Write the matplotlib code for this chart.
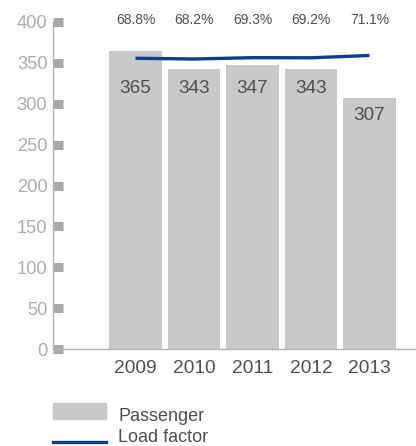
import matplotlib
matplotlib.use("Agg")
import matplotlib.pyplot as plt
from matplotlib.patches import Rectangle
from matplotlib.lines import Line2D

plt.rcParams['font.family'] = ['Liberation Sans', 'DejaVu Sans']

years = ['2009', '2010', '2011', '2012', '2013']
passengers = [365, 343, 347, 343, 307]
load_factor = [68.8, 68.2, 69.3, 69.2, 71.1]
y_ticks = [0, 50, 100, 150, 200, 250, 300, 350, 400]

bar_color = '#c8c9cb'
line_color = '#0b3f8c'
axis_color = '#b4b4b6'
tick_mark_color = '#a9a9ab'
text_color = '#4f4f4f'
tick_label_color = '#adadad'

W, H = 416, 446
fig = plt.figure(figsize=(W / 100, H / 100), dpi=100)
ax = fig.add_axes([53 / W, 97 / H, 1 - 53 / W, 327 / H])

x = list(range(len(years)))
ax.bar(x, passengers, width=0.9, color=bar_color, zorder=2)
ax.set_xlim(-1.41, 4.795)
ax.set_ylim(0, 400)

for s in ['top', 'right']:
    ax.spines[s].set_visible(False)
for s in ['left', 'bottom']:
    ax.spines[s].set_color(axis_color)
    ax.spines[s].set_linewidth(1.0)

ax.set_yticks(y_ticks)
ax.set_yticklabels([str(v) for v in y_ticks])
ax.tick_params(axis='y', direction='in', length=7, width=6.5,
               color=tick_mark_color, labelsize=13.2, labelcolor=tick_label_color, pad=4)
ax.set_xticks(x)
ax.set_xticklabels(years)
ax.tick_params(axis='x', length=0, labelsize=13.8, labelcolor=text_color, pad=8)

# passenger values inside the bars
for xi, v in zip(x, passengers):
    ypos = min(313, v - 27)
    ax.text(xi, ypos, str(v), ha='center', va='baseline', fontsize=13.6,
            color=text_color, zorder=4)

# load factor on its own hidden scale
ax2 = ax.twinx()
ax2.set_ylim(-170, 98.6)
ax2.axis('off')
ax2.set_xlim(ax.get_xlim())
ax2.plot(x, load_factor, color=line_color, linewidth=2.4, solid_capstyle='butt', zorder=5)

for xi, lf in zip(x, load_factor):
    ax.text(xi, 400 - 2 / 0.8175, f"{lf}%", ha='center', va='baseline',
            fontsize=10, color=text_color, clip_on=False)

# legend
fig.patches.append(Rectangle((53 / W, 1 - 419 / H), 53 / W, 16 / H,
                             transform=fig.transFigure, color=bar_color))
fig.text(118 / W, 1 - 421 / H, 'Passenger', ha='left', va='baseline',
         fontsize=13, color=text_color)
fig.lines.append(Line2D([53 / W, 106 / W], [1 - 442 / H, 1 - 442 / H],
                        transform=fig.transFigure, color=line_color, linewidth=2.4))
fig.text(118 / W, 1 - 442.5 / H, 'Load factor', ha='left', va='baseline',
         fontsize=13, color=text_color)

fig.savefig('out.png', dpi=100)
